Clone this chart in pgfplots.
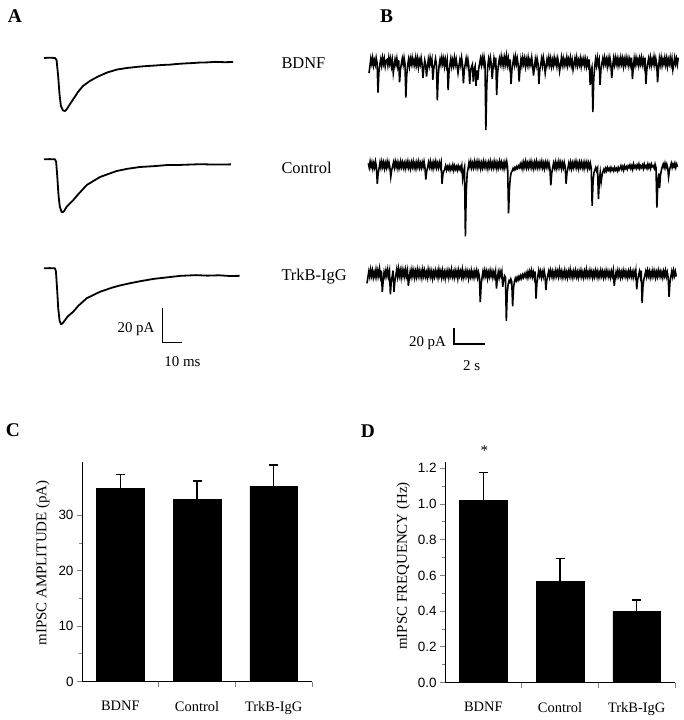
\documentclass[border=0pt]{standalone}
\usepackage{pgfplots}
\pgfplotsset{compat=1.18}
\usepackage{fontspec}
\setmainfont{Liberation Serif}
\newfontfamily\arialfont{Liberation Sans}

\pgfplotsset{
  traceA/.style={hide axis, clip=false, x=1.9bp, y=1.75bp, xmin=0, xmax=104, ymin=-34, ymax=2, anchor=origin},
  traceB/.style={hide axis, clip=false, x=15.5bp, y=0.85bp, xmin=0, xmax=20.1, ymin=-90, ymax=8, anchor=origin},
  barax/.style={scale only axis, width=230bp, anchor=south west,
    axis lines*=left, axis line style={-, line width=1bp},
    xmin=0, xmax=3, ymin=0,
    xtick={1,2,3}, xticklabels={}, xtick style={line width=1bp}, 
    extra x ticks={0.5,1.5,2.5}, extra x tick labels={BDNF,Control,TrkB-IgG},
    extra x tick style={major tick length=0pt},
    xticklabel style={font=\fontsize{14.5}{16}\selectfont, yshift=-16bp},
    tick align=outside, major tick length=5bp, minor tick length=3bp,
    ytick style={line width=1bp},
    yticklabel style={font=\arialfont\fontsize{13.5}{15}\selectfont},
    /pgf/number format/assume math mode=true,
    minor y tick num=1},
  barplot/.style={ybar, bar width=47.5bp, fill=black, draw=black,
    error bars/.cd, y dir=plus, y explicit,
    error bar style={line width=1.2bp},
    error mark options={rotate=90, mark size=4.5bp, line width=1.2bp}}
}

\begin{document}
\begin{tikzpicture}
\path[use as bounding box] (0,0) rectangle (684bp,-720bp);

% ---------- Panel A ----------
\begin{axis}[traceA, at={(44bp,-58bp)}]
\addplot[black, line width=1.8bp, line join=round] coordinates {
(0,0) (3,0.2) (5.8,0) (6.6,-1.1) (7.4,-9.7) (8.2,-21.1) (8.9,-27.4) (10.0,-30.0) (11.1,-30.3) (12.1,-29.1) (13.7,-26.3) (15.8,-22.9) (17.9,-19.4) (20.5,-16) (24.2,-13.1) (28.4,-10.6) (33.2,-8.3) (38.4,-6.6) (43.7,-5.7) (50.5,-4.9) (54,-4.6) (58.4,-4.3) (62,-4.0) (66.3,-3.8) (70,-3.4) (74.2,-3.1) (78,-2.9) (82.1,-2.6) (86,-2.5) (90,-2.2) (95,-2.4) (99.5,-2.3)};
\end{axis}
\begin{axis}[traceA, at={(44bp,-159.3bp)}]
\addplot[black, line width=1.8bp, line join=round] coordinates {
(0,0) (3,0.1) (5.8,0) (6.4,-1.5) (7.0,-10) (7.6,-20) (8.3,-27) (9.2,-30) (9.8,-30.3) (10.6,-29.5) (12,-27) (15.4,-23.3) (18,-20) (22.5,-14.7) (29.5,-10.1) (38.2,-6.7) (44,-5.4) (50.5,-4.4) (58,-3.9) (64.6,-3.3) (72,-3.2) (82,-2.8) (90,-3.0) (98.4,-2.9)};
\end{axis}
\begin{axis}[traceA, at={(44bp,-268.3bp)}]
\addplot[black, line width=1.8bp, line join=round] coordinates {
(0,0) (3,0.1) (5.8,0) (6.3,-2) (6.9,-12) (7.5,-23) (8.2,-30) (9.0,-32) (9.7,-31.5) (10.8,-30) (12.5,-27.5) (15.4,-24.8) (18,-21.5) (22.5,-17.1) (29.5,-13.4) (36,-11) (40,-9.8) (45,-8.6) (50.5,-7.4) (58,-6.0) (64.6,-5.2) (72,-4.3) (80,-3.9) (86,-4.2) (92,-4.0) (98,-4.4) (103,-4.3)};
\end{axis}

\node[anchor=base west, font=\fontsize{16.5}{18}\selectfont] at (278bp,-68.3bp) {BDNF};
\node[anchor=base west, font=\fontsize{16.5}{18}\selectfont] at (278bp,-173.3bp) {Control};
\node[anchor=base west, font=\fontsize{16.5}{18}\selectfont] at (278bp,-280.7bp) {TrkB-IgG};

\draw[line width=1.2bp] (162.7bp,-307.7bp) -- (162.7bp,-342.7bp) -- (181.7bp,-342.7bp);
\node[anchor=base east, font=\fontsize{15}{17}\selectfont] at (158bp,-332.7bp) {20 pA};
\node[anchor=base, font=\fontsize{15}{17}\selectfont] at (182.5bp,-366.7bp) {10 ms};

% ---------- Panel B ----------
\begin{axis}[traceB, at={(369bp,-62bp)}]
\addplot[black, line width=1.6bp] table[x expr=\coordindex*0.058, y index=0, header=false, row sep=\\] {
-13\\ -5\\ 4\\ -2\\ 5\\ -4\\ 2\\ -3\\ 5\\ -1\\
-36\\ -12\\ -3\\ 3\\ -4\\ 5\\ -2\\ 4\\ -5\\ 2\\
3\\ -4\\ 5\\ -2\\ 4\\ -5\\ 2\\ -13\\ -5\\ 3\\
-3\\ 4\\ -5\\ 2\\ -24\\ -9\\ -2\\ 4\\ -3\\ 5\\
-2\\ -42\\ -15\\ -4\\ 3\\ -5\\ 4\\ -2\\ 5\\ -3\\
2\\ -4\\ 5\\ -3\\ 4\\ -6\\ 2\\ -3\\ 5\\ -2\\
-19\\ -7\\ 2\\ -3\\ -17\\ -6\\ 3\\ -4\\ 5\\ -2\\
3\\ -21\\ -8\\ -2\\ 4\\ -3\\ -45\\ -16\\ -4\\ 3\\
-3\\ 5\\ -2\\ 4\\ -5\\ 3\\ -4\\ 2\\ -33\\ -12\\
-3\\ 4\\ -5\\ 2\\ -4\\ 5\\ -3\\ 3\\ -5\\ -13\\
-5\\ 2\\ -4\\ 5\\ -3\\ -25\\ -9\\ -3\\ 4\\ -4\\
3\\ -5\\ -26\\ -10\\ -6\\ -3\\ -23\\ -9\\ -5\\ -28\\
-10\\ -21\\ -8\\ -2\\ 4\\ -3\\ 5\\ -2\\ 6\\ -1\\
-80\\ -28\\ -6\\ 3\\ -4\\ 5\\ -2\\ -20\\ -7\\ 4\\
-3\\ 5\\ -39\\ -14\\ -3\\ 4\\ -2\\ 6\\ -3\\ 4\\
-4\\ 5\\ -2\\ 7\\ -3\\ 4\\ -5\\ 3\\ -26\\ -9\\
-2\\ 5\\ -3\\ 6\\ -2\\ 4\\ -4\\ -23\\ -8\\ 3\\
-4\\ 5\\ -2\\ 4\\ -5\\ 3\\ -3\\ 5\\ -4\\ 2\\
-3\\ 5\\ -4\\ -16\\ -6\\ 3\\ -4\\ 4\\ -2\\ -26\\
-9\\ -3\\ 4\\ -4\\ 5\\ -2\\ -13\\ -5\\ 3\\ -3\\
5\\ -3\\ 4\\ -5\\ 2\\ -4\\ 5\\ -2\\ 3\\ -5\\
4\\ -2\\ -11\\ -4\\ 5\\ -3\\ 4\\ -4\\ 2\\ -3\\
5\\ -4\\ 3\\ -2\\ 5\\ -4\\ 2\\ -9\\ -3\\ 4\\
-3\\ 5\\ -4\\ 2\\ -3\\ 4\\ -5\\ 3\\ -2\\ 4\\
-4\\ 3\\ -5\\ 2\\ -4\\ 3\\ -27\\ -10\\ -6\\ -59\\
-20\\ -6\\ 3\\ -4\\ 5\\ -3\\ 2\\ -27\\ -9\\ -2\\
4\\ -3\\ 5\\ -2\\ 3\\ -5\\ 4\\ -3\\ 5\\ -2\\
-19\\ -6\\ 4\\ -3\\ 5\\ -2\\ 4\\ -4\\ 3\\ -3\\
5\\ -2\\ 4\\ -5\\ 3\\ -3\\ 5\\ -2\\ 4\\ -4\\
3\\ -3\\ 5\\ -20\\ -7\\ 4\\ -3\\ 5\\ -2\\ 3\\
-4\\ 4\\ -2\\ 5\\ -3\\ 3\\ -4\\ 5\\ -26\\ -9\\
-2\\ 4\\ -3\\ 5\\ -4\\ 3\\ -2\\ 6\\ -3\\ 4\\
-2\\ -24\\ -8\\ 4\\ -3\\ 5\\ -4\\ 3\\ -2\\ 5\\
-3\\ 4\\ -5\\ 3\\ -2\\ 5\\ -3\\ 4\\ -9\\ -3\\
5\\ -2\\ 4\\ -3\\ 5\\
};
\end{axis}

\begin{axis}[traceB, at={(368.3bp,-165bp)}]
\addplot[black, line width=1.6bp] table[x expr=\coordindex*0.058, y index=0, header=false, row sep=\\] {
2\\ -3\\ 4\\ -2\\ 3\\ -4\\ 2\\ -3\\ 4\\ -2\\
-22\\ -9\\ -4\\ 3\\ -3\\ 4\\ -2\\ 3\\ -4\\ 2\\
-3\\ 4\\ -2\\ 3\\ -3\\ -14\\ -6\\ -2\\ 3\\ -3\\
4\\ -2\\ 3\\ -4\\ 2\\ -3\\ 4\\ -2\\ 3\\ -3\\
2\\ -4\\ 3\\ -2\\ 4\\ -3\\ 2\\ -4\\ 3\\ -2\\
4\\ -3\\ 2\\ -4\\ 3\\ -2\\ 4\\ -3\\ 2\\ -3\\
3\\ -2\\ 4\\ -3\\ -17\\ -7\\ -3\\ 3\\ -2\\ 4\\
-3\\ 2\\ -4\\ 3\\ -2\\ 4\\ -3\\ 2\\ -3\\ 3\\
-2\\ 3\\ -22\\ -11\\ -7\\ -5\\ -1\\ -6\\ -2\\ -5\\
-1\\ -6\\ -2\\ -5\\ 0\\ -6\\ -1\\ -5\\ -2\\ -6\\
-1\\ -5\\ -2\\ -6\\ -1\\ -16\\ -8\\ -3\\ -84\\ -30\\
-10\\ -4\\ 3\\ -2\\ 4\\ -3\\ 2\\ -3\\ 4\\ -2\\
3\\ -3\\ 4\\ -2\\ 3\\ -4\\ 2\\ -3\\ 4\\ -2\\
3\\ -3\\ 2\\ -4\\ 3\\ -2\\ 4\\ -3\\ 2\\ -3\\
4\\ -2\\ 3\\ -4\\ 2\\ -3\\ 4\\ -2\\ 3\\ -3\\
2\\ -4\\ 3\\ -2\\ 4\\ -3\\ -57\\ -28\\ -14\\ -9\\
-7\\ -4\\ -6\\ -3\\ -5\\ -2\\ -4\\ -1\\ -3\\ 1\\
-3\\ 2\\ -4\\ 3\\ -2\\ 4\\ -3\\ 2\\ -3\\ 3\\
-2\\ 4\\ -3\\ 2\\ -4\\ 3\\ -2\\ 4\\ -3\\ 2\\
-3\\ 3\\ -2\\ 4\\ -3\\ 2\\ -4\\ 3\\ -2\\ 3\\
-3\\ 2\\ -4\\ -24\\ -10\\ -4\\ 2\\ -3\\ 3\\ -4\\
2\\ -3\\ 4\\ -2\\ 3\\ -4\\ 2\\ -3\\ 3\\ -2\\
-22\\ -9\\ -4\\ 2\\ -3\\ 3\\ -4\\ 2\\ -3\\ 3\\
-2\\ 4\\ -3\\ 2\\ -4\\ 3\\ -2\\ 3\\ -3\\ 2\\
-4\\ 3\\ -2\\ 3\\ -4\\ 2\\ -3\\ 2\\ -4\\ -48\\
-20\\ -9\\ -6\\ -3\\ -7\\ -4\\ -40\\ -18\\ -9\\ -20\\
-12\\ -8\\ -5\\ -8\\ -4\\ -7\\ -3\\ -6\\ -4\\ -7\\
-3\\ -6\\ -4\\ -7\\ -3\\ -6\\ -4\\ -7\\ -3\\ -6\\
-4\\ -1\\ -5\\ -2\\ -6\\ -1\\ -4\\ -2\\ -5\\ -1\\
-3\\ 0\\ -4\\ -1\\ -5\\ 1\\ -3\\ -1\\ -4\\ 0\\
-3\\ 1\\ -4\\ -1\\ -3\\ 0\\ -4\\ 1\\ -3\\ -1\\
-4\\ 1\\ -3\\ 0\\ -4\\ 1\\ -2\\ -1\\ -4\\ 1\\
-3\\ -50\\ -22\\ -10\\ -27\\ -12\\ -6\\ -2\\ 1\\ -3\\
2\\ -3\\ 1\\ -3\\ -14\\ -6\\ -2\\ 2\\ -3\\ 1\\
-2\\ 2\\ -3\\ 1\\ -2\\
};
\end{axis}

\begin{axis}[traceB, at={(367bp,-274bp)}]
\addplot[black, line width=1.6bp] table[x expr=\coordindex*0.058, y index=0, header=false, row sep=\\] {
-11\\ -4\\ 3\\ -3\\ 5\\ -2\\ 4\\ -4\\ 2\\ -3\\
5\\ -3\\ 4\\ -2\\ 6\\ -3\\ 4\\ -21\\ -8\\ 2\\
-3\\ 4\\ -2\\ 5\\ -3\\ 3\\ -24\\ -9\\ -3\\ 4\\
-21\\ -8\\ -2\\ 5\\ -3\\ 6\\ -2\\ 4\\ -4\\ 5\\
-2\\ 4\\ -3\\ 5\\ -2\\ 4\\ -14\\ -5\\ 3\\ -3\\
5\\ -2\\ 4\\ -4\\ 3\\ -3\\ 5\\ -2\\ 4\\ -3\\
3\\ -4\\ 5\\ -2\\ 4\\ -3\\ 2\\ -4\\ 5\\ -2\\
4\\ -3\\ 3\\ -5\\ 2\\ -3\\ 4\\ -2\\ 3\\ -4\\
5\\ -2\\ 3\\ -4\\ 4\\ -3\\ 2\\ -5\\ 3\\ -2\\
4\\ -4\\ 3\\ -2\\ 5\\ -3\\ 2\\ -4\\ 4\\ -2\\
3\\ -5\\ 4\\ -2\\ 3\\ -3\\ 5\\ -4\\ 2\\ -3\\
4\\ -2\\ 3\\ -5\\ 2\\ -3\\ 4\\ -3\\ 2\\ -4\\
3\\ -2\\ 4\\ -4\\ 2\\ -3\\ -33\\ -12\\ -4\\ 3\\
-3\\ 4\\ -2\\ 3\\ -5\\ 2\\ -3\\ 4\\ -2\\ 3\\
-4\\ 2\\ -3\\ 3\\ -17\\ -6\\ 2\\ -4\\ 3\\ -2\\
3\\ -15\\ -6\\ -2\\ -4\\ -55\\ -22\\ -12\\ -8\\ -10\\
-6\\ -9\\ -38\\ -16\\ -9\\ -5\\ -8\\ -4\\ -7\\ -3\\
-6\\ -2\\ -5\\ -1\\ -4\\ 0\\ -3\\ 1\\ -4\\ 2\\
-3\\ 3\\ -2\\ 4\\ -3\\ 2\\ -4\\ 3\\ -29\\ -11\\
-3\\ 4\\ -2\\ 3\\ -4\\ 2\\ -3\\ 4\\ -2\\ -19\\
-7\\ -2\\ 3\\ -3\\ 4\\ -2\\ 3\\ -4\\ 2\\ -3\\
4\\ -2\\ 3\\ -3\\ 5\\ -2\\ 3\\ -4\\ 2\\ -3\\
4\\ -3\\ 2\\ -4\\ 3\\ -2\\ 5\\ -3\\ 2\\ -4\\
3\\ -2\\ 4\\ -3\\ 2\\ -4\\ 3\\ -2\\ 4\\ -3\\
2\\ -4\\ 3\\ -2\\ 5\\ -3\\ 2\\ -3\\ 4\\ -2\\
3\\ -4\\ 2\\ -3\\ 4\\ -2\\ 3\\ -4\\ 2\\ -3\\
4\\ -2\\ 3\\ -4\\ 2\\ -3\\ 4\\ -2\\ 3\\ -3\\
2\\ -4\\ 3\\ -2\\ 4\\ -14\\ -5\\ 2\\ -3\\ 4\\
-2\\ 3\\ -4\\ 2\\ -3\\ 4\\ -2\\ 3\\ -3\\ 2\\
-4\\ 3\\ -2\\ 4\\ -3\\ 2\\ -4\\ 3\\ -2\\ 4\\
-18\\ -7\\ -2\\ 3\\ -3\\ 4\\ -34\\ -14\\ -6\\ -2\\
3\\ -3\\ 4\\ -2\\ 3\\ -4\\ 2\\ -3\\ 4\\ -2\\
3\\ -4\\ 2\\ -3\\ 4\\ -2\\ 3\\ -3\\ 2\\ -4\\
3\\ -2\\ 4\\ -3\\ 2\\ -4\\ -27\\ -10\\ -3\\ 3\\
-3\\ 4\\ -2\\ 3\\ -3\\
};
\end{axis}

\draw[line width=1.2bp] (454bp,-328bp) -- (454bp,-344bp) -- (485bp,-344bp);
\node[anchor=base east, font=\fontsize{15}{17}\selectfont] at (449.5bp,-346.7bp) {20 pA};
\node[anchor=base, font=\fontsize{15}{17}\selectfont] at (471.7bp,-370bp) {2 s};

% ---------- Panel C ----------
\begin{axis}[barax, at={(82bp,-681.7bp)}, height=220bp, ymax=39.66,
  ytick={0,10,20,30},
  ylabel={mIPSC AMPLITUDE (pA)},
  ylabel style={font=\fontsize{15}{17}\selectfont, at={(axis description cs:-0.17,0.54)}, anchor=center}]
\addplot[barplot] coordinates {(0.5,34.92) +- (0,2.45) (1.5,32.83) +- (0,3.35) (2.5,35.23) +- (0,3.83)};
\end{axis}

% ---------- Panel D ----------
\begin{axis}[barax, at={(445bp,-682.7bp)}, height=221bp, ymax=1.2368,
  ytick={0,0.2,0.4,0.6,0.8,1.0,1.2},
  yticklabel style={/pgf/number format/fixed, /pgf/number format/fixed zerofill, /pgf/number format/precision=1},
  ylabel={mIPSC FREQUENCY (Hz)},
  ylabel style={font=\fontsize{15}{17}\selectfont, at={(axis description cs:-0.181,0.528)}, anchor=center}]
\addplot[barplot] coordinates {(0.5,1.022) +- (0,0.155) (1.5,0.569) +- (0,0.127) (2.5,0.401) +- (0,0.062)};
\end{axis}
\node[font=\fontsize{15}{17}\selectfont] at (484.3bp,-451bp) {*};

% ---------- Panel letters ----------
\node[anchor=base, font=\bfseries\fontsize{19.5}{22}\selectfont] at (15bp,-22.7bp) {A};
\node[anchor=base, font=\bfseries\fontsize{19.5}{22}\selectfont] at (386.7bp,-22.7bp) {B};
\node[anchor=base, font=\bfseries\fontsize{19.5}{22}\selectfont] at (13bp,-436.7bp) {C};
\node[anchor=base, font=\bfseries\fontsize{19.5}{22}\selectfont] at (367.8bp,-437bp) {D};
\end{tikzpicture}
\end{document}
